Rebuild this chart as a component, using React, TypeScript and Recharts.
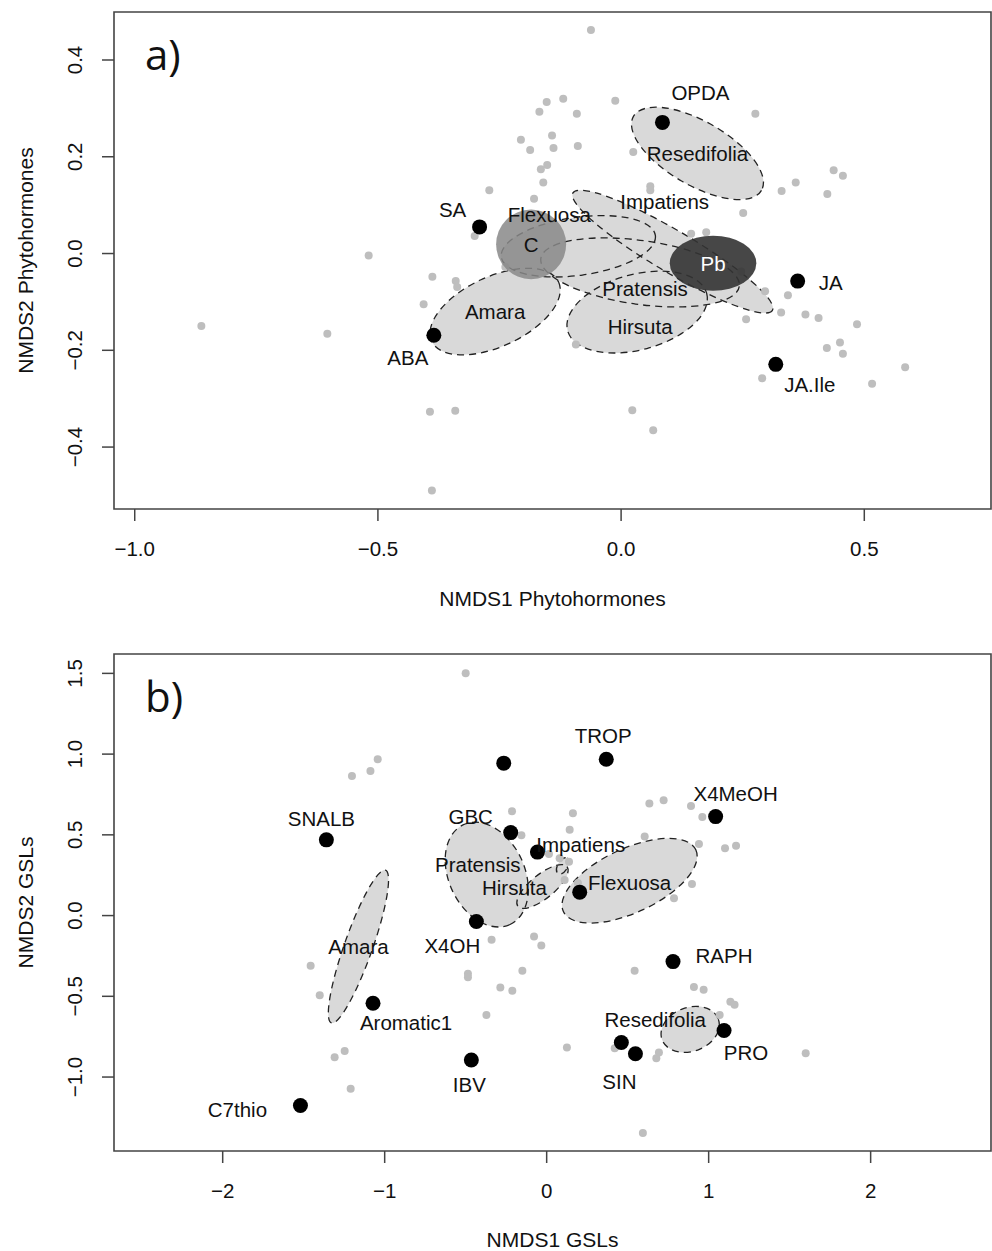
import { ScatterChart, Scatter, XAxis, YAxis, ReferenceArea } from 'recharts';

const FONT = '"Liberation Sans", Arial, Helvetica, sans-serif';

// a) phytohormones: site scores (grey), hormone vectors (black), group ellipses
const hormoneSites = [
  { x: -0.062, y: 0.462 }, { x: -0.153, y: 0.313 }, { x: -0.119, y: 0.32 }, { x: -0.012, y: 0.316 },
  { x: -0.168, y: 0.293 }, { x: -0.091, y: 0.289 }, { x: -0.206, y: 0.235 }, { x: -0.142, y: 0.244 },
  { x: -0.187, y: 0.214 }, { x: -0.139, y: 0.218 }, { x: -0.089, y: 0.222 }, { x: -0.152, y: 0.183 },
  { x: -0.165, y: 0.174 }, { x: -0.16, y: 0.147 }, { x: -0.271, y: 0.131 }, { x: -0.179, y: 0.113 },
  { x: -0.301, y: 0.036 }, { x: -0.519, y: -0.004 }, { x: -0.388, y: -0.048 }, { x: -0.34, y: -0.057 },
  { x: -0.337, y: -0.069 }, { x: -0.406, y: -0.105 }, { x: -0.238, y: -0.028 }, { x: -0.604, y: -0.166 },
  { x: -0.093, y: -0.188 }, { x: -0.393, y: -0.327 }, { x: -0.341, y: -0.325 }, { x: -0.863, y: -0.15 },
  { x: -0.389, y: -0.49 }, { x: 0.023, y: -0.324 }, { x: 0.066, y: -0.365 }, { x: 0.257, y: -0.136 },
  { x: 0.329, y: -0.122 }, { x: 0.379, y: -0.126 }, { x: 0.406, y: -0.133 }, { x: 0.485, y: -0.146 },
  { x: 0.423, y: -0.195 }, { x: 0.45, y: -0.184 }, { x: 0.456, y: -0.207 }, { x: 0.584, y: -0.235 },
  { x: 0.29, y: -0.258 }, { x: 0.516, y: -0.269 }, { x: 0.276, y: 0.289 }, { x: 0.025, y: 0.21 },
  { x: 0.06, y: 0.139 }, { x: 0.06, y: 0.131 }, { x: 0.437, y: 0.172 }, { x: 0.456, y: 0.161 },
  { x: 0.33, y: 0.129 }, { x: 0.359, y: 0.147 }, { x: 0.424, y: 0.123 }, { x: 0.251, y: 0.084 },
  { x: 0.144, y: 0.041 }, { x: 0.175, y: 0.044 }, { x: 0.247, y: -0.037 }, { x: 0.296, y: -0.078 },
  { x: 0.343, y: -0.086 },
];

const hormoneVectors = [
  { name: 'SA', x: -0.291, y: 0.055 },
  { name: 'ABA', x: -0.385, y: -0.169 },
  { name: 'OPDA', x: 0.085, y: 0.271 },
  { name: 'JA', x: 0.363, y: -0.057 },
  { name: 'JA.Ile', x: 0.318, y: -0.229 },
];

// centre, semi-axes (data units) and tilt in degrees
const hormoneSpecies = [
  { name: 'Resedifolia', x: 0.157, y: 0.207, a: 0.152, b: 0.066, angle: -30 },
  { name: 'Amara', x: -0.259, y: -0.12, a: 0.144, b: 0.072, angle: 25 },
  { name: 'Hirsuta', x: 0.033, y: -0.121, a: 0.148, b: 0.078, angle: 15 },
  { name: 'Impatiens', x: 0.106, y: 0.004, a: 0.238, b: 0.043, angle: -30.5 },
  { name: 'Flexuosa', x: -0.088, y: 0.015, a: 0.16, b: 0.06, angle: 8 },
  { name: 'Pratensis', x: 0.039, y: -0.039, a: 0.206, b: 0.066, angle: -8 },
];

const hormoneTreatments = [
  { name: 'C', x: -0.185, y: 0.019, a: 0.072, b: 0.072, angle: 0 },
  { name: 'Pb', x: 0.189, y: -0.02, a: 0.089, b: 0.057, angle: 0 },
];

const hormoneXTicks = [-1, -0.5, 0, 0.5];
const hormoneYTicks = [-0.4, -0.2, 0, 0.2, 0.4];

// b) glucosinolates
const gslSites = [
  { x: -0.5, y: 1.501 }, { x: -1.043, y: 0.968 }, { x: -1.088, y: 0.896 }, { x: -1.202, y: 0.865 },
  { x: -0.214, y: 0.646 }, { x: 0.162, y: 0.634 }, { x: -0.156, y: 0.498 }, { x: 0.142, y: 0.531 },
  { x: 0.014, y: 0.382 }, { x: 0.08, y: 0.355 }, { x: 0.138, y: 0.334 }, { x: 0.111, y: 0.221 },
  { x: 0.193, y: 0.201 }, { x: -0.34, y: -0.15 }, { x: -0.078, y: -0.13 }, { x: -0.033, y: -0.186 },
  { x: -0.486, y: -0.361 }, { x: -0.486, y: -0.382 }, { x: -0.15, y: -0.341 }, { x: -0.286, y: -0.446 },
  { x: -0.212, y: -0.466 }, { x: -1.457, y: -0.311 }, { x: -1.401, y: -0.493 }, { x: -0.372, y: -0.615 },
  { x: -1.247, y: -0.838 }, { x: -1.309, y: -0.877 }, { x: -1.21, y: -1.073 }, { x: 0.125, y: -0.817 },
  { x: 0.634, y: 0.694 }, { x: 0.722, y: 0.714 }, { x: 0.891, y: 0.679 }, { x: 0.961, y: 0.611 },
  { x: 0.605, y: 0.489 }, { x: 0.94, y: 0.444 }, { x: 1.101, y: 0.417 }, { x: 1.169, y: 0.432 },
  { x: 0.897, y: 0.196 }, { x: 0.786, y: 0.108 }, { x: 0.543, y: -0.342 }, { x: 0.909, y: -0.443 },
  { x: 0.969, y: -0.46 }, { x: 1.134, y: -0.533 }, { x: 1.16, y: -0.553 }, { x: 1.068, y: -0.615 },
  { x: 0.42, y: -0.821 }, { x: 0.693, y: -0.848 }, { x: 0.677, y: -0.883 }, { x: 1.599, y: -0.852 },
  { x: 0.594, y: -1.347 },
];

const gslVectors = [
  { name: 'SNALB', x: -1.36, y: 0.469 },
  { name: '', x: -0.265, y: 0.944 },
  { name: 'TROP', x: 0.368, y: 0.968 },
  { name: 'GBC', x: -0.222, y: 0.514 },
  { name: '', x: -0.057, y: 0.393 },
  { name: '', x: 0.204, y: 0.145 },
  { name: 'X4OH', x: -0.434, y: -0.037 },
  { name: 'Aromatic1', x: -1.072, y: -0.543 },
  { name: 'IBV', x: -0.465, y: -0.894 },
  { name: 'C7thio', x: -1.52, y: -1.176 },
  { name: 'X4MeOH', x: 1.043, y: 0.613 },
  { name: 'RAPH', x: 0.78, y: -0.285 },
  { name: 'PRO', x: 1.095, y: -0.712 },
  { name: '', x: 0.461, y: -0.786 },
  { name: 'SIN', x: 0.548, y: -0.856 },
];

const gslSpecies = [
  { name: 'Amara', x: -1.162, y: -0.192, a: 0.5, b: 0.087, angle: 70.5 },
  { name: 'Pratensis', x: -0.37, y: 0.254, a: 0.34, b: 0.235, angle: -65 },
  { name: 'Hirsuta', x: -0.026, y: 0.18, a: 0.195, b: 0.074, angle: 39 },
  { name: 'Impatiens', x: 0.099, y: 0.308, a: 0.056, b: 0.031, angle: 60 },
  { name: 'Flexuosa', x: 0.512, y: 0.216, a: 0.451, b: 0.198, angle: 25 },
  { name: 'Resedifolia', x: 0.886, y: -0.705, a: 0.185, b: 0.136, angle: 20 },
];

const gslXTicks = [-2, -1, 0, 1, 2];
const gslYTicks = [-1, -0.5, 0, 0.5, 1, 1.5];

// label nudges in px, relative to the point / ellipse centre
const hormoneOffsets: Record<string, [number, number]> = {
  SA: [-27, -17], ABA: [-26, 22], OPDA: [38, -30], JA: [33, 1], 'JA.Ile': [34, 20],
  Hirsuta: [3, 14], Impatiens: [-8, -50], Flexuosa: [-29, -32], Pratensis: [5, 16],
};
const gslOffsets: Record<string, [number, number]> = {
  SNALB: [-5, -21], TROP: [-3, -24], X4MeOH: [20, -23], GBC: [-40, -16], X4OH: [-24, 24],
  Aromatic1: [33, 19], IBV: [-2, 25], C7thio: [-63, 4], RAPH: [51, -6], PRO: [22, 22], SIN: [-16, 28],
  Pratensis: [-9, -10], Hirsuta: [-28, 1], Impatiens: [18, -21], Flexuosa: [0, 2], Resedifolia: [-35, -10],
};

const treatmentStyle: Record<string, { fill: string; opacity: number; text: string }> = {
  C: { fill: '#888888', opacity: 0.85, text: '#111' },
  Pb: { fill: '#333333', opacity: 0.9, text: '#ffffff' },
};

const PLOT_LEFT = 114;
const PLOT_RIGHT = 991;
const PLOT_H = 497;
const W = 992;

const fmt = (v: number, d: number) => (v < 0 ? '\u2212' : '') + Math.abs(v).toFixed(d);

function Panel(props: any) {
  const {
    tag, tagY, sites, vectors, species, treatments, offsets, xDomain, yDomain, xTicks, yTicks,
    xDigits, height, top, xTitle, yTitle, xTitleY,
  } = props;
  const kx = (PLOT_RIGHT - PLOT_LEFT) / (xDomain[1] - xDomain[0]);
  const ky = PLOT_H / (yDomain[1] - yDomain[0]);
  const xAxisH = height - top - PLOT_H;
  const midX = (PLOT_LEFT + PLOT_RIGHT) / 2;
  const midY = top + PLOT_H / 2;

  const ell = (p: any, style: any) => (
    <ellipse
      cx={p.cx}
      cy={p.cy}
      rx={p.payload.a * kx}
      ry={p.payload.b * ky}
      transform={`rotate(${-p.payload.angle} ${p.cx} ${p.cy})`}
      {...style}
    />
  );

  const txt = (x: number, y: number, s: string, fill = '#111', size = 20.5) => (
    <text x={x} y={y} textAnchor="middle" dominantBaseline="central" fontSize={size} fontFamily={FONT} fill={fill}>
      {s}
    </text>
  );

  const labelShape = (p: any) => {
    const name = p.payload.name;
    if (!name) return <g />;
    const [dx, dy] = offsets[name] || [0, 0];
    const st = treatmentStyle[name];
    return txt(p.cx + dx, p.cy + dy, name, st ? st.text : '#111');
  };

  return (
    <ScatterChart width={W} height={height} margin={{ top, right: W - PLOT_RIGHT, bottom: 0, left: 0 }}>
      <XAxis
        type="number"
        dataKey="x"
        domain={xDomain}
        ticks={xTicks}
        allowDataOverflow
        height={xAxisH}
        axisLine={false}
        tickSize={12}
        tickMargin={0}
        tickLine={{ stroke: '#444', strokeWidth: 1.5 }}
        tick={(p: any) => txt(p.x, p.y + 27, fmt(p.payload.value, xDigits), '#111', 20.5)}
      />
      <YAxis
        type="number"
        dataKey="y"
        domain={yDomain}
        ticks={yTicks}
        allowDataOverflow
        width={PLOT_LEFT}
        axisLine={false}
        tickSize={12}
        tickMargin={0}
        tickLine={{ stroke: '#444', strokeWidth: 1.5 }}
        tick={(p: any) => (
          <text
            x={p.x - 27}
            y={p.y}
            transform={`rotate(-90 ${p.x - 27} ${p.y})`}
            textAnchor="middle"
            dominantBaseline="central"
            fontSize={20.5}
            fontFamily={FONT}
            fill="#111"
          >
            {fmt(p.payload.value, 1)}
          </text>
        )}
      />
      <ReferenceArea
        x1={xDomain[0]}
        x2={xDomain[1]}
        y1={yDomain[0]}
        y2={yDomain[1]}
        fill="none"
        stroke="#444"
        strokeWidth={1.6}
        ifOverflow="visible"
      />
      <Scatter data={species} isAnimationActive={false} shape={(p: any) => ell(p, { fill: '#d9d9d9', stroke: 'none' })} />
      <Scatter
        data={species}
        isAnimationActive={false}
        shape={(p: any) => ell(p, { fill: 'none', stroke: '#222', strokeWidth: 1.3, strokeDasharray: '7 5' })}
      />
      <Scatter data={sites} isAnimationActive={false} shape={(p: any) => <circle cx={p.cx} cy={p.cy} r={4} fill="#bebebe" />} />
      {treatments && (
        <Scatter
          data={treatments}
          isAnimationActive={false}
          shape={(p: any) => {
            const st = treatmentStyle[p.payload.name];
            return ell(p, { fill: st.fill, fillOpacity: st.opacity, stroke: 'none' });
          }}
        />
      )}
      <Scatter data={vectors} isAnimationActive={false} shape={(p: any) => <circle cx={p.cx} cy={p.cy} r={7.5} fill="#000" />} />
      <Scatter data={species} isAnimationActive={false} shape={labelShape} />
      {treatments && <Scatter data={treatments} isAnimationActive={false} shape={labelShape} />}
      <Scatter data={vectors} isAnimationActive={false} shape={labelShape} />
      <text x={145} y={tagY} fontSize={42} fontFamily='"Open Sans", sans-serif' fill="#111">
        {tag}
      </text>
      {txt(midX, xTitleY, xTitle, '#111', 21)}
      <text
        x={25}
        y={midY}
        transform={`rotate(-90 25 ${midY})`}
        textAnchor="middle"
        dominantBaseline="central"
        fontSize={21}
        fontFamily={FONT}
        fill="#111"
      >
        {yTitle}
      </text>
    </ScatterChart>
  );
}

export default function App() {
  return (
    <div style={{ position: 'absolute', left: 0, top: 0, width: W, height: 1251, background: '#fff' }}>
      <Panel
        tag="a)"
        tagY={70}
        sites={hormoneSites}
        vectors={hormoneVectors}
        species={hormoneSpecies}
        treatments={hormoneTreatments}
        offsets={hormoneOffsets}
        xDomain={[-1.0426, 0.7605]}
        yDomain={[-0.528, 0.4992]}
        xTicks={hormoneXTicks}
        yTicks={hormoneYTicks}
        xDigits={1}
        height={625}
        top={12}
        xTitle="NMDS1 Phytohormones"
        yTitle="NMDS2 Phytohormones"
        xTitleY={598}
      />
      <Panel
        tag="b)"
        tagY={87}
        sites={gslSites}
        vectors={gslVectors}
        species={gslSpecies}
        offsets={gslOffsets}
        xDomain={[-2.671, 2.743]}
        yDomain={[-1.458, 1.62]}
        xTicks={gslXTicks}
        yTicks={gslYTicks}
        xDigits={0}
        height={626}
        top={29}
        xTitle="NMDS1 GSLs"
        yTitle="NMDS2 GSLs"
        xTitleY={614}
      />
    </div>
  );
}
